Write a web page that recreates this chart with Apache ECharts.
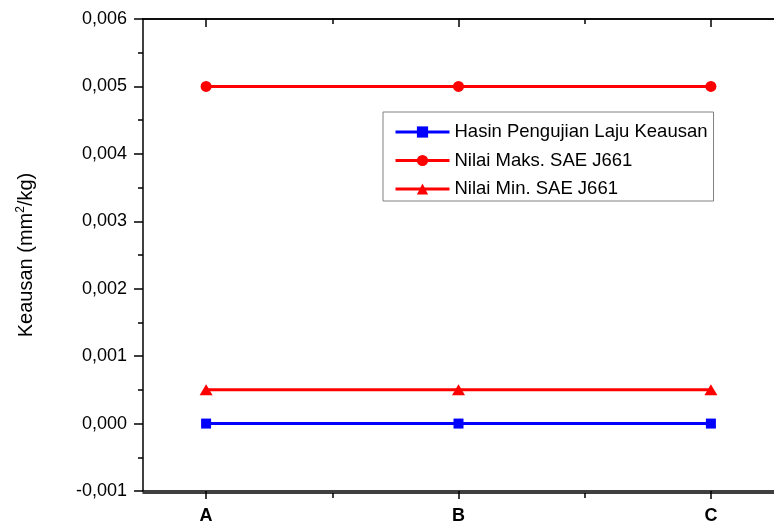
<!DOCTYPE html>
<html><head><meta charset="utf-8">
<script src="https://cdn.jsdelivr.net/npm/echarts@6/dist/echarts.min.js"></script>
<style>html,body{margin:0;padding:0;background:#fff}#c{width:774px;height:525px}</style>
</head><body><div id="c"></div>
<script>
const categories = ['A', 'B', 'C'];
const seriesNames = ['Hasin Pengujian Laju Keausan', 'Nilai Maks. SAE J661', 'Nilai Min. SAE J661'];
const hasil = [0, 0, 0];
const maks = [0.005, 0.005, 0.005];
const minimum = [0.0005, 0.0005, 0.0005];
const yMin = -0.001, yMax = 0.006, yStep = 0.001;

const FONT = 'Liberation Sans, Arial, sans-serif';
const majorX = categories.map((c, i) => i);
const minorX = categories.slice(1).map((c, i) => i + 0.5);
const toXY = arr => arr.map((v, i) => [i, v]);

const gridRect = {left: 143, top: 19, width: 641, height: 474};
const axisLineStyle = {color: '#000', width: 1.5};
const xBase = {type: 'value', min: -0.25, max: categories.length - 0.75, splitLine: {show: false},
  axisLine: {onZero: false, lineStyle: axisLineStyle}};

const chart = echarts.init(document.getElementById('c'));
chart.setOption({
  animation: false,
  backgroundColor: '#fff',
  grid: [Object.assign({}, gridRect), Object.assign({}, gridRect)],
  xAxis: [
    Object.assign({}, xBase, {gridIndex: 0, position: 'bottom',
      axisTick: {show: true, customValues: majorX, length: 8, lineStyle: axisLineStyle},
      axisLabel: {customValues: majorX, formatter: v => categories[Math.round(v)], fontFamily: FONT,
        fontSize: 18, fontWeight: 'bold', color: '#000', margin: 16}}),
    Object.assign({}, xBase, {gridIndex: 0, position: 'top',
      axisTick: {show: true, inside: true, customValues: majorX, length: 8, lineStyle: axisLineStyle},
      axisLabel: {show: false}}),
    Object.assign({}, xBase, {gridIndex: 1, position: 'bottom',
      axisTick: {show: true, customValues: minorX, length: 5, lineStyle: axisLineStyle},
      axisLabel: {show: false}}),
    Object.assign({}, xBase, {gridIndex: 1, position: 'top',
      axisTick: {show: true, inside: true, customValues: minorX, length: 5, lineStyle: axisLineStyle},
      axisLabel: {show: false}})
  ],
  yAxis: [
    {type: 'value', gridIndex: 0, min: yMin, max: yMax, interval: yStep, splitLine: {show: false},
      axisLine: {show: true, onZero: false, lineStyle: axisLineStyle},
      axisTick: {show: true, length: 9, lineStyle: axisLineStyle},
      minorTick: {show: true, splitNumber: 2, length: 5, lineStyle: {color: '#000', width: 1.5}},
      axisLabel: {formatter: v => v.toFixed(3).replace('.', ',').replace('-0,000', '0,000'),
        fontFamily: FONT, fontSize: 18, color: '#000', margin: 16},
      name: 'Keausan (mm{sup|2}/kg)', nameLocation: 'middle', nameGap: 106,
      nameTextStyle: {fontFamily: FONT, fontSize: 20, color: '#000',
        rich: {sup: {fontFamily: FONT, fontSize: 12, color: '#000', padding: [0, 0, 10, 0]}}}},
    {type: 'value', gridIndex: 1, min: yMin, max: yMax, show: false}
  ],
  legend: {
    orient: 'vertical', left: 383, top: 112, padding: [10, 6, 2, 11], itemGap: 8.5,
    itemWidth: 54, itemHeight: 14, borderColor: '#808080', borderWidth: 1,
    lineStyle: {width: 3},
    textStyle: {fontFamily: FONT, fontSize: 18.5, lineHeight: 20, color: '#000'},
    data: seriesNames
  },
  series: [
    {name: seriesNames[0], type: 'line', xAxisIndex: 0, yAxisIndex: 0, data: toXY(hasil),
      symbol: 'rect', symbolSize: 10, color: '#0000ff', lineStyle: {width: 3, color: '#0000ff'},
      itemStyle: {color: '#0000ff'}},
    {name: seriesNames[1], type: 'line', xAxisIndex: 0, yAxisIndex: 0, data: toXY(maks),
      symbol: 'circle', symbolSize: 11, color: '#ff0000', lineStyle: {width: 3, color: '#ff0000'},
      itemStyle: {color: '#ff0000'}},
    {name: seriesNames[2], type: 'line', xAxisIndex: 0, yAxisIndex: 0, data: toXY(minimum),
      symbol: 'triangle', symbolSize: [13, 11], color: '#ff0000', lineStyle: {width: 3, color: '#ff0000'},
      itemStyle: {color: '#ff0000'}}
  ]
});
</script></body></html>
